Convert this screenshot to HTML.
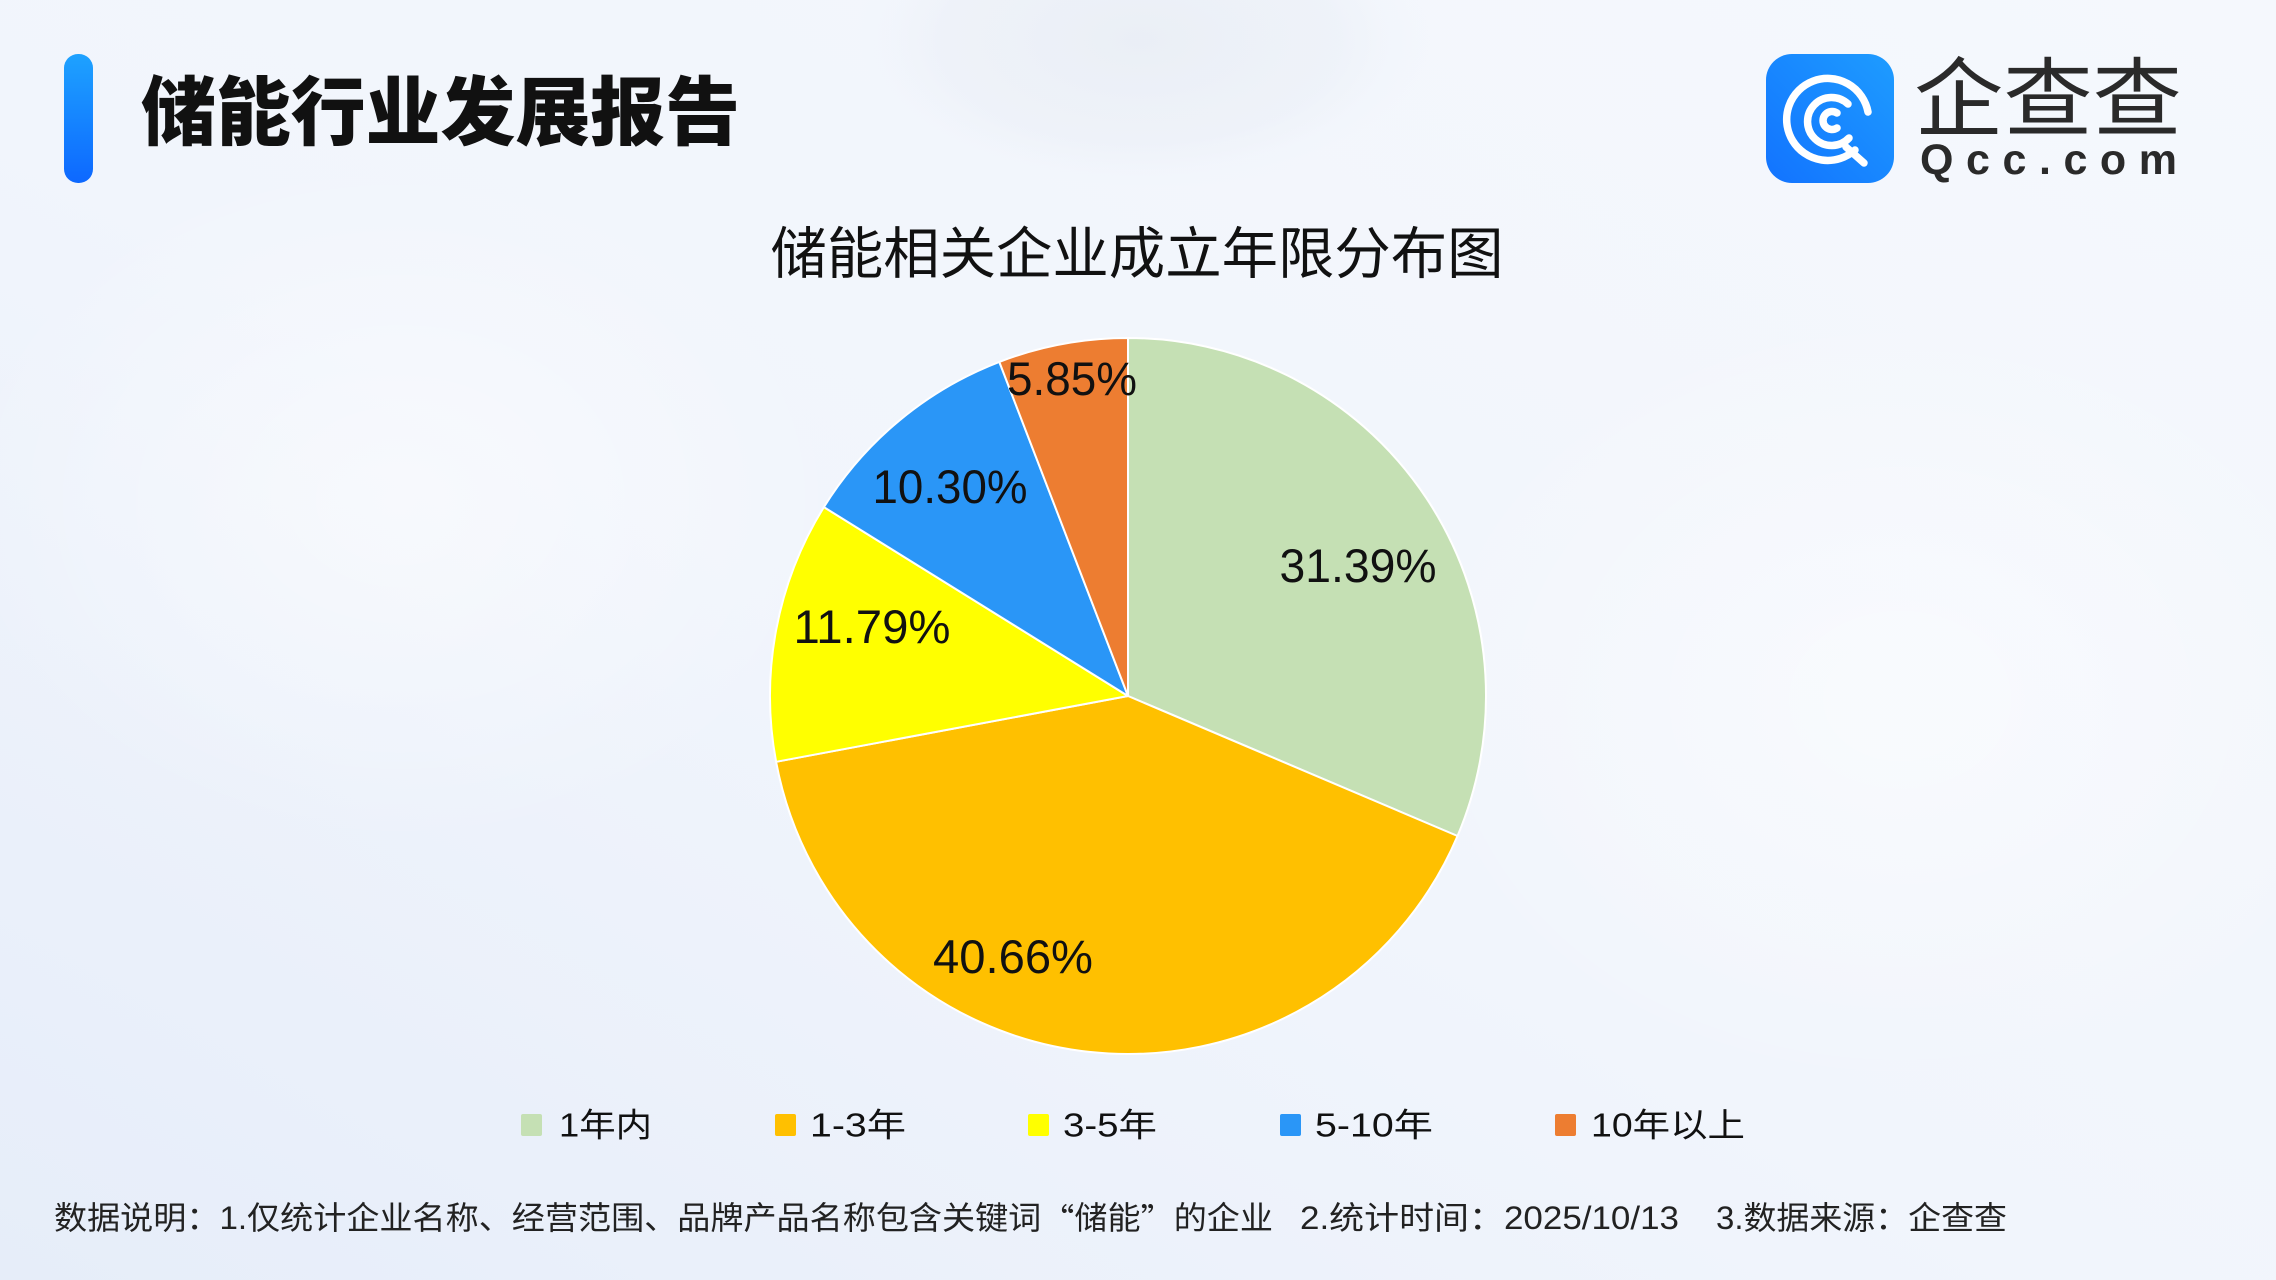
<!DOCTYPE html>
<html><head><meta charset="utf-8"><style>
html,body{margin:0;padding:0;}
body{width:2276px;height:1280px;overflow:hidden;}
svg{display:block;}
</style></head><body>
<svg width="2276" height="1280" viewBox="0 0 2276 1280" xmlns="http://www.w3.org/2000/svg">
<defs>
<linearGradient id="bg" x1="0" y1="1" x2="1" y2="0">
<stop offset="0" stop-color="#e6edf9"/>
<stop offset="0.45" stop-color="#f1f5fc"/>
<stop offset="1" stop-color="#f5f8fd"/>
</linearGradient>
<radialGradient id="blob" cx="0.5" cy="0.5" r="0.5">
<stop offset="0" stop-color="#e3e8f0" stop-opacity="0.55"/>
<stop offset="0.7" stop-color="#e6ebf3" stop-opacity="0.35"/>
<stop offset="1" stop-color="#eef2f9" stop-opacity="0"/>
</radialGradient>
<radialGradient id="blob2" cx="0.5" cy="0.5" r="0.5">
<stop offset="0" stop-color="#ffffff" stop-opacity="0.5"/>
<stop offset="1" stop-color="#ffffff" stop-opacity="0"/>
</radialGradient>
<linearGradient id="bar" x1="0" y1="0" x2="0" y2="1">
<stop offset="0" stop-color="#1ea2ff"/>
<stop offset="1" stop-color="#0d68ff"/>
</linearGradient>
<linearGradient id="logo" x1="0" y1="1" x2="1" y2="0">
<stop offset="0" stop-color="#1273ff"/>
<stop offset="1" stop-color="#1e9cff"/>
</linearGradient>
</defs>
<rect x="0" y="0" width="2276" height="1280" fill="url(#bg)"/>
<ellipse cx="1140" cy="40" rx="290" ry="150" fill="url(#blob)"/>
<ellipse cx="1900" cy="700" rx="500" ry="400" fill="url(#blob2)"/>
<ellipse cx="400" cy="500" rx="450" ry="350" fill="url(#blob2)"/>

<!-- header -->
<rect x="64" y="54" width="29" height="129" rx="14" fill="url(#bar)"/>
<text x="141" y="113" dominant-baseline="central" font-family="'Liberation Sans','Noto Sans CJK SC',sans-serif" font-size="75" font-weight="900" fill="#111" textLength="599" lengthAdjust="spacingAndGlyphs">储能行业发展报告</text>

<!-- logo -->
<rect x="1766" y="54" width="128" height="129" rx="26" fill="url(#logo)"/>
<g fill="none" stroke="#ffffff" stroke-width="7.5" stroke-linecap="round">
<path d="M1868,112 A41,41 0 1 0 1855,150"/>
<line x1="1846" y1="147" x2="1864" y2="163"/>
<path d="M1848,104 A24,24 0 1 0 1849,138"/>
<path d="M1837,113 A9,9 0 1 0 1837,128"/>
</g>
<text x="1914" y="100" dominant-baseline="central" font-family="'Liberation Sans','Noto Sans CJK SC',sans-serif" font-size="86" fill="#2a2a2a" textLength="268" lengthAdjust="spacingAndGlyphs">企查查</text>
<text x="1920" y="174" font-family="'Liberation Sans',sans-serif" font-size="43" font-weight="bold" fill="#2a2a2a" textLength="257" lengthAdjust="spacing">Qcc.com</text>

<!-- chart title -->
<text x="1137" y="254" text-anchor="middle" dominant-baseline="central" font-family="'Liberation Sans','Noto Sans CJK SC',sans-serif" font-size="56" fill="#111" textLength="733" lengthAdjust="spacingAndGlyphs">储能相关企业成立年限分布图</text>

<!-- pie -->
<g stroke="#ffffff" stroke-width="2" stroke-linejoin="round">
<path d="M1128,696 L1128,338 A358,358 0 0 1 1457.5,836 Z" fill="#c5e0b4"/>
<path d="M1128,696 L1457.5,836 A358,358 0 0 1 776.1,761.8 Z" fill="#ffc000"/>
<path d="M1128,696 L776.1,761.8 A358,358 0 0 1 823.9,507.1 Z" fill="#ffff00"/>
<path d="M1128,696 L823.9,507.1 A358,358 0 0 1 999.3,361.9 Z" fill="#2a96f7"/>
<path d="M1128,696 L999.3,361.9 A358,358 0 0 1 1128,338 Z" fill="#ed7d31"/>
</g>
<g font-family="'Liberation Sans',sans-serif" font-size="47" fill="#111" text-anchor="middle">
<text x="1358" y="582" textLength="157" lengthAdjust="spacingAndGlyphs">31.39%</text>
<text x="1013" y="973" textLength="160" lengthAdjust="spacingAndGlyphs">40.66%</text>
<text x="872" y="643" textLength="157" lengthAdjust="spacingAndGlyphs">11.79%</text>
<text x="950" y="503" textLength="155" lengthAdjust="spacingAndGlyphs">10.30%</text>
<text x="1072" y="395" textLength="130" lengthAdjust="spacingAndGlyphs">5.85%</text>
</g>

<!-- legend -->
<g>
<rect x="521" y="1114" width="21" height="22" rx="2" fill="#c5e0b4"/>
<rect x="775" y="1114" width="21" height="22" rx="2" fill="#ffc000"/>
<rect x="1028" y="1114" width="21" height="22" rx="2" fill="#ffff00"/>
<rect x="1280" y="1114" width="21" height="22" rx="2" fill="#2a96f7"/>
<rect x="1555" y="1114" width="21" height="22" rx="2" fill="#ed7d31"/>
</g>
<g font-family="'Liberation Sans','Noto Sans CJK SC',sans-serif" font-size="33" fill="#111" dominant-baseline="central">
<text x="559" y="1125" textLength="93" lengthAdjust="spacingAndGlyphs">1年内</text>
<text x="810" y="1125" textLength="96" lengthAdjust="spacingAndGlyphs">1-3年</text>
<text x="1063" y="1125" textLength="94" lengthAdjust="spacingAndGlyphs">3-5年</text>
<text x="1315" y="1125" textLength="118" lengthAdjust="spacingAndGlyphs">5-10年</text>
<text x="1591" y="1125" textLength="154" lengthAdjust="spacingAndGlyphs">10年以上</text>
</g>

<!-- footer -->
<g font-family="'Liberation Sans','Noto Sans CJK SC',sans-serif" font-size="32" fill="#222" dominant-baseline="central">
<text x="54" y="1218" textLength="1219" lengthAdjust="spacingAndGlyphs">数据说明：1.仅统计企业名称、经营范围、品牌产品名称包含关键词<tspan font-family="'Noto Sans CJK SC',sans-serif">“</tspan>储能<tspan font-family="'Noto Sans CJK SC',sans-serif">”</tspan>的企业</text>
<text x="1300" y="1218" textLength="379" lengthAdjust="spacingAndGlyphs">2.统计时间：2025/10/13</text>
<text x="1716" y="1218" textLength="291" lengthAdjust="spacingAndGlyphs">3.数据来源：企查查</text>
</g>
</svg>
</body></html>
